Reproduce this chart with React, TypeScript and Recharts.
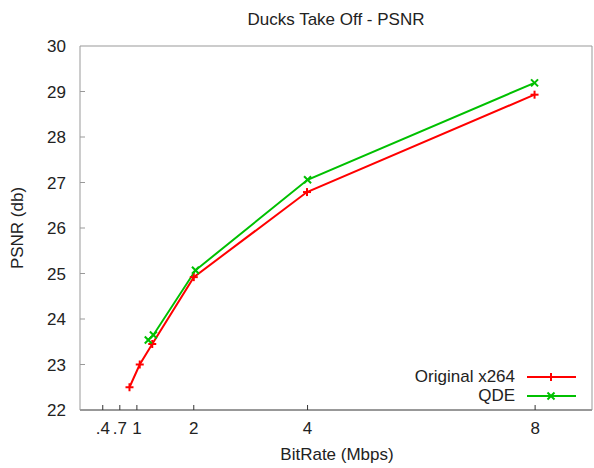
import { LineChart, Line, XAxis, YAxis, ReferenceLine } from "recharts";

const bitrates = [0.4, 0.7, 1, 2, 4, 8];
const psnrTicks = [22, 23, 24, 25, 26, 27, 28, 29, 30];

const originalX264 = [
  { rate: 0.87, psnr: 22.5 },
  { rate: 1.05, psnr: 23.0 },
  { rate: 1.27, psnr: 23.45 },
  { rate: 2.0, psnr: 24.92 },
  { rate: 3.99, psnr: 26.79 },
  { rate: 7.99, psnr: 28.93 },
];

const qde = [
  { rate: 1.2, psnr: 23.54 },
  { rate: 1.29, psnr: 23.65 },
  { rate: 2.03, psnr: 25.07 },
  { rate: 4.0, psnr: 27.06 },
  { rate: 7.99, psnr: 29.19 },
];

const RED = "#ff0000";
const GREEN = "#00c000";
const FONT = "'Liberation Sans', Arial, sans-serif";
const FS = 17;

function PlusDot(props: any) {
  const { cx, cy } = props;
  if (cx == null || cy == null) return null;
  return (
    <g stroke={RED} strokeWidth={2}>
      <line x1={cx - 4} x2={cx + 4} y1={cy} y2={cy} />
      <line x1={cx} x2={cx} y1={cy - 4} y2={cy + 4} />
    </g>
  );
}

function CrossDot(props: any) {
  const { cx, cy } = props;
  if (cx == null || cy == null) return null;
  return (
    <g stroke={GREEN} strokeWidth={2}>
      <line x1={cx - 3.5} x2={cx + 3.5} y1={cy - 3.5} y2={cy + 3.5} />
      <line x1={cx - 3.5} x2={cx + 3.5} y1={cy + 3.5} y2={cy - 3.5} />
    </g>
  );
}

function LeftTick(props: any) {
  const { x, y, payload } = props;
  return (
    <g>
      {payload.value !== 22 && payload.value !== 30 && (
        <line x1={x} x2={x + 5} y1={y} y2={y} stroke="#999" />
      )}
      <text x={x - 14} y={y} dy={6} textAnchor="end" fontSize={FS} fill="#222" fontFamily={FONT}>
        {payload.value}
      </text>
    </g>
  );
}

function RightTick(props: any) {
  const { x, y, payload } = props;
  if (payload.value === 22 || payload.value === 30) return null;
  return <line x1={x} x2={x - 5} y1={y} y2={y} stroke="#999" />;
}

function BottomTick(props: any) {
  const { x, y, payload } = props;
  const v = payload.value;
  const label = v < 1 ? String(v).replace(/^0/, "") : String(v);
  return (
    <g>
      <line x1={x} x2={x} y1={y} y2={y - 5} stroke="#333" />
      <text x={x} y={y + 24} textAnchor="middle" fontSize={FS} fill="#222" fontFamily={FONT}>
        {label}
      </text>
    </g>
  );
}

function LegendBox() {
  const rows = [
    { name: "Original x264", color: RED, Dot: PlusDot },
    { name: "QDE", color: GREEN, Dot: CrossDot },
  ];
  return (
    <div style={{ fontFamily: FONT, fontSize: FS, color: "#222", lineHeight: "19px" }}>
      {rows.map((r) => (
        <div key={r.name} style={{ display: "flex", alignItems: "center", justifyContent: "flex-end", height: 19 }}>
          <span>{r.name}</span>
          <svg width={53} height={19} style={{ marginLeft: 10 }}>
            <line x1={2} x2={51} y1={10} y2={10} stroke={r.color} strokeWidth={2} />
            <r.Dot cx={26} cy={10} />
          </svg>
        </div>
      ))}
    </div>
  );
}

export default function App() {
  return (
    <div style={{ position: "absolute", left: 0, top: 0, width: 594, height: 468, background: "#fff" }}>
      <LineChart width={594} height={468} margin={{ top: 46, right: 1, bottom: 28, left: 20 }}>
        <text x={336} y={25} textAnchor="middle" fontSize={FS} fill="#222" fontFamily={FONT}>
          Ducks Take Off - PSNR
        </text>
        <text
          x={23}
          y={228}
          textAnchor="middle"
          fontSize={FS}
          fill="#222"
          fontFamily={FONT}
          transform="rotate(-90 23 228)"
        >
          PSNR (db)
        </text>
        <text x={337} y={460} textAnchor="middle" fontSize={FS} fill="#222" fontFamily={FONT}>
          BitRate (Mbps)
        </text>
        <XAxis
          type="number"
          dataKey="rate"
          domain={[0, 9]}
          ticks={bitrates}
          allowDataOverflow
          height={30}
          tickSize={0}
          tickMargin={0}
          axisLine={{ stroke: "#333" }}
          tickLine={false}
          tick={<BottomTick />}
          interval={0}
        />
        <YAxis
          type="number"
          domain={[22, 30]}
          ticks={psnrTicks}
          width={60}
          tickSize={0}
          tickMargin={0}
          axisLine={{ stroke: "#999" }}
          tickLine={false}
          tick={<LeftTick />}
          interval={0}
        />
        <YAxis
          yAxisId="r"
          orientation="right"
          type="number"
          domain={[22, 30]}
          ticks={psnrTicks}
          width={1}
          tickSize={0}
          tickMargin={0}
          axisLine={{ stroke: "#999" }}
          tickLine={false}
          tick={<RightTick />}
          interval={0}
        />
        <ReferenceLine y={30} stroke="#999" />
        <Line
          data={originalX264}
          dataKey="psnr"
          name="Original x264"
          stroke={RED}
          strokeWidth={2}
          dot={<PlusDot />}
          activeDot={false}
          isAnimationActive={false}
        />
        <Line
          data={qde}
          dataKey="psnr"
          name="QDE"
          stroke={GREEN}
          strokeWidth={2}
          dot={<CrossDot />}
          activeDot={false}
          isAnimationActive={false}
        />
      </LineChart>
      <div style={{ position: "absolute", top: 367, right: 16 }}>
        <LegendBox />
      </div>
    </div>
  );
}
